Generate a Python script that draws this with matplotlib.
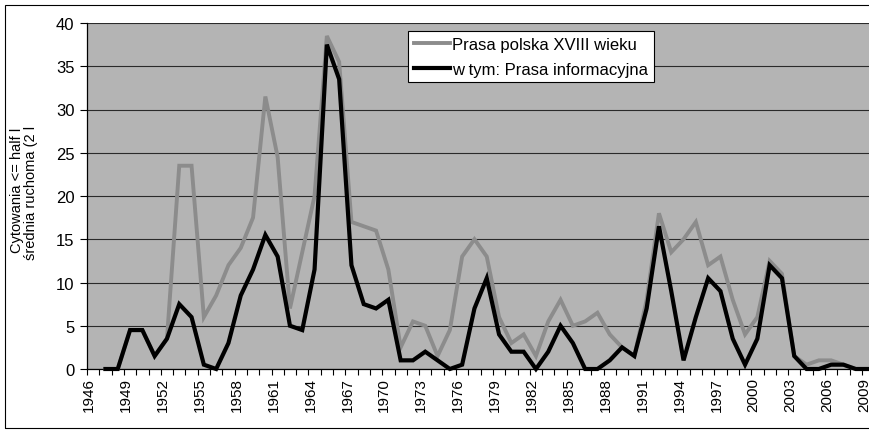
import numpy as np
import matplotlib
matplotlib.use("Agg")
import matplotlib.pyplot as plt
import matplotlib.transforms as mtrans
from matplotlib.patches import Rectangle

plt.rcParams['font.family'] = ['Liberation Sans', 'DejaVu Sans']

lata = list(range(1946, 2010))
nan = np.nan

# Prasa polska XVIII wieku (szara)
prasa_polska = [nan, 0, 0, 4.5, 4.5, 1.5, 3.5, 23.5, 23.5, 6,
                8.5, 12, 14, 17.5, 31.5, 24.5, 7, 13.5, 20, 38.5,
                35.5, 17, 16.5, 16, 11.5, 2.5, 5.5, 5, 1.5, 4.5,
                13, 15, 13, 6, 3, 4, 1.5, 5.5, 8, 5,
                5.5, 6.5, 4, 2.5, 1.5, 8, 18, 13.5, 15, 17,
                12, 13, 8, 4, 6, 12.5, 11, 1.5, 0.5, 1,
                1, 0.5, 0, 0]

# w tym: Prasa informacyjna (czarna)
prasa_inf = [nan, 0, 0, 4.5, 4.5, 1.5, 3.5, 7.5, 6, 0.5,
             0, 3, 8.5, 11.5, 15.5, 13, 5, 4.5, 11.5, 37.5,
             33.5, 12, 7.5, 7, 8, 1, 1, 2, 1, 0,
             0.5, 7, 10.5, 4, 2, 2, 0, 2, 5, 3,
             0, 0, 1, 2.5, 1.5, 7, 16.5, 9, 1, 6,
             10.5, 9, 3.5, 0.5, 3.5, 12, 10.5, 1.5, 0, 0,
             0.5, 0.5, 0, 0]

etykiety_lat = list(range(1946, 2010, 3))

W, H = 870, 431
fig = plt.figure(figsize=(W / 100, H / 100), dpi=100)

# ramka wykresu
fig.patches.append(Rectangle((5 / W, 2 / H), 1, 1 - 8 / H, transform=fig.transFigure,
                             fill=False, edgecolor='black', lw=0.8))

ax = fig.add_axes([87 / W, 61 / H, 787.2 / W, 346 / H])
ax.set_facecolor('#b4b4b4')

ax.plot(lata, prasa_polska, color='#8c8c8c', lw=2.8, label='Prasa polska XVIII wieku',
        clip_on=False, zorder=3, solid_joinstyle='miter')
ax.plot(lata, prasa_inf, color='black', lw=3.0, label='w tym: Prasa informacyjna',
        clip_on=False, zorder=4, solid_joinstyle='miter')

ax.set_xlim(1945.5, 2009.5)
ax.set_ylim(0, 40)
ax.set_yticks(range(0, 41, 5))
ax.set_xticks(etykiety_lat)
ax.set_xticklabels([str(r) for r in etykiety_lat], rotation=90, fontsize=11)
ax.set_xticks(np.arange(1945.5, 2010, 1), minor=True)
ax.tick_params(axis='x', which='major', length=0, pad=6)
ax.tick_params(axis='x', which='minor', length=4, width=0.8, direction='out')
ax.tick_params(axis='y', length=5, width=0.8, direction='out', labelsize=12, pad=4)

przesun = mtrans.ScaledTranslation(-4 / 100, 0, fig.dpi_scale_trans)
for t in ax.get_xticklabels():
    t.set_transform(t.get_transform() + przesun)

ax.grid(axis='y', color='#2a2a2a', lw=0.8)
ax.set_axisbelow(True)
for s in ['top', 'right']:
    ax.spines[s].set_visible(False)
for s in ['left', 'bottom']:
    ax.spines[s].set_linewidth(0.9)

fig.text(17 / W, 1 - 190 / H, 'Cytowania <= half l', rotation=90,
         ha='center', va='center', fontsize=10.5)
fig.text(31 / W, 1 - 193 / H, 'średnia ruchoma (2 l', rotation=90,
         ha='center', va='center', fontsize=10.5)

leg = ax.legend(loc='upper left', bbox_to_anchor=(407.7 / W, 1 - 31.7 / H),
                bbox_transform=fig.transFigure, fontsize=12, frameon=True,
                fancybox=False, framealpha=1, edgecolor='black',
                handlelength=2.2, handletextpad=0.1, labelspacing=0.6,
                borderpad=0.35, borderaxespad=0)
leg.get_frame().set_linewidth(0.8)

fig.savefig('out.png', dpi=100)
